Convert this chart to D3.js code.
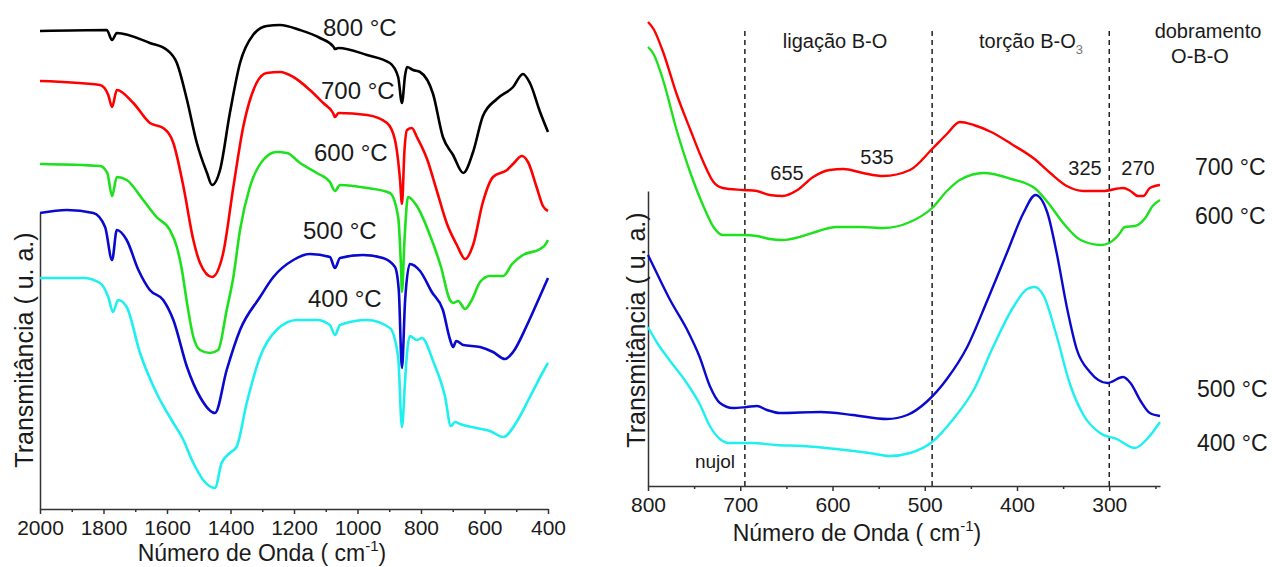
<!DOCTYPE html>
<html>
<head>
<meta charset="utf-8">
<script src="https://cdn.jsdelivr.net/npm/d3@7"></script>
<style>
  body { margin: 0; background: #fff; }
  text { font-family: Arial, "Liberation Sans", sans-serif; fill: #1a1a1a; }
</style>
</head>
<body>
<svg id="chart" width="1272" height="567"></svg>
<script>
// series labels and colours (same order in both panels)
var tempLabels = ["800 °C", "700 °C", "600 °C", "500 °C", "400 °C"];
var colors = ["#000000", "#ff0000", "#1ee11e", "#0a0acf", "#1ef0f0"];

// left panel: wavenumber (cm-1), transmittance (a.u.)
var leftMajor = [2000, 1800, 1600, 1400, 1200, 1000, 800, 600, 400];
var leftMinor = [1900, 1700, 1500, 1300, 1100, 900, 700, 500];

var ir800 = [[2000,95.6],[1790,95.8],[1773,93.8],[1758,95.2],[1654,93.2],[1600,91.8],[1569,89.2],[1537,81.8],[1506,73.2],[1474,67.2],[1458,64.8],[1433,67.8],[1402,79.2],[1370,89.2],[1329,94.8],[1286,96.6],[1244,96.8],[1181,95.8],[1118,94.2],[1075,92.4],[1071,92.0],[1060,92.2],[970,90.8],[898,89.2],[872,86.4],[860,81.2],[850,86.8],[844,88.4],[825,87.8],[803,87.4],[762,83.0],[731,74.4],[699,70.8],[667,67.2],[636,71.4],[605,78.6],[561,82.0],[510,84.4],[479,87.0],[457,85.2],[425,79.4],[400,75.4]];
var ir700 = [[2000,85.6],[1811,84.8],[1785,82.8],[1773,80.4],[1758,83.8],[1706,81.2],[1654,77.2],[1612,76.2],[1580,73.2],[1548,64.4],[1517,53.8],[1496,49.2],[1458,46.4],[1423,51.2],[1391,64.4],[1360,76.4],[1318,85.2],[1286,87.2],[1244,87.4],[1202,86.4],[1150,83.8],[1108,81.2],[1077,79.2],[1071,78.4],[1060,79.2],[970,78.8],[907,77.2],[882,73.8],[866,65.8],[860,61.0],[852,71.8],[844,75.8],[829,76.2],[813,74.4],[781,70.0],[750,63.6],[718,57.0],[687,52.8],[661,50.0],[636,52.8],[605,61.4],[573,66.4],[529,67.8],[510,69.0],[482,70.6],[463,69.4],[435,64.2],[416,60.6],[400,59.6]];
var ir600 = [[2000,69.0],[1811,68.6],[1788,67.2],[1773,62.6],[1758,66.4],[1727,65.8],[1675,61.8],[1633,58.4],[1591,55.8],[1569,52.4],[1553,47.8],[1537,41.2],[1517,34.4],[1496,31.8],[1465,31.2],[1439,31.8],[1412,39.8],[1391,46.4],[1370,55.8],[1339,64.4],[1297,69.8],[1255,71.4],[1222,71.2],[1181,69.2],[1128,67.2],[1087,65.4],[1071,63.6],[1055,64.8],[970,64.2],[898,63.2],[872,58.4],[863,48.4],[860,43.4],[852,53.8],[841,62.4],[813,60.6],[772,54.8],[737,48.4],[709,41.8],[699,41.2],[683,41.6],[661,40.0],[640,41.8],[614,45.4],[583,46.6],[541,46.6],[513,49.0],[479,50.8],[425,52.0],[409,52.8],[400,53.8]];
var ir500 = [[2000,59.2],[1915,59.8],[1832,59.2],[1795,56.4],[1773,49.8],[1758,55.8],[1727,53.8],[1690,47.8],[1654,43.8],[1612,41.8],[1580,37.8],[1537,28.4],[1496,22.4],[1449,19.2],[1412,27.8],[1370,35.8],[1307,42.4],[1265,46.4],[1202,49.8],[1150,51.0],[1087,50.4],[1071,48.2],[1055,50.2],[983,50.8],[920,50.2],[882,48.4],[870,43.8],[860,28.2],[850,41.8],[835,49.0],[803,47.6],[766,43.4],[731,39.8],[709,34.0],[699,32.4],[689,33.6],[667,32.8],[614,32.4],[573,31.4],[536,30.0],[510,31.4],[466,36.8],[425,42.6],[400,46.2]];
var ir400 = [[2000,46.2],[1863,46.2],[1811,45.2],[1785,42.4],[1770,39.4],[1754,41.8],[1727,40.4],[1685,31.2],[1633,23.2],[1580,17.2],[1553,14.4],[1517,9.2],[1486,5.8],[1449,4.2],[1428,9.2],[1402,11.2],[1381,12.4],[1349,21.2],[1307,30.4],[1255,35.8],[1191,37.8],[1128,37.8],[1087,36.8],[1071,34.8],[1055,36.8],[970,37.8],[898,36.2],[872,30.4],[860,16.4],[850,25.8],[844,31.2],[835,34.6],[813,33.8],[797,34.2],[762,29.6],[724,22.4],[706,16.6],[693,17.4],[677,17.0],[625,16.2],[583,15.6],[541,14.4],[499,17.4],[457,22.4],[416,27.4],[400,29.2]];

// right panel: far-IR 800-245 cm-1
var rightMajor = [800, 700, 600, 500, 400, 300];
var rightMinor = [750, 650, 550, 450, 350, 250];
var bandLines = [695, 492, 300];
var peakLabels = ["655", "535", "325", "270"];

var far700 = [[800,97.4],[794,96.0],[784,91.6],[769,83.0],[754,75.8],[740,69.4],[729,65.4],[719,64.2],[697,63.8],[682,63.6],[668,62.8],[654,62.6],[638,63.8],[621,66.4],[603,67.8],[588,68.0],[567,67.2],[545,66.6],[516,67.8],[492,72.0],[476,75.0],[462,77.4],[447,76.8],[428,75.4],[406,73.0],[381,70.0],[364,67.2],[346,64.6],[328,63.6],[307,63.6],[285,64.2],[277,63.6],[269,62.6],[263,62.6],[256,64.2],[245,64.8]];
var far600 = [[800,92.4],[794,91.0],[784,86.0],[769,75.8],[754,67.2],[740,60.6],[729,56.4],[719,54.8],[697,54.8],[682,54.6],[668,54.0],[654,53.8],[632,54.6],[615,55.6],[596,56.4],[570,56.4],[545,56.2],[516,57.4],[492,60.2],[476,63.6],[462,65.8],[436,67.2],[406,66.0],[381,64.2],[367,61.4],[349,57.0],[331,53.8],[309,52.8],[300,53.2],[290,54.8],[283,56.4],[272,56.6],[261,58.2],[253,60.6],[245,61.8]];
var far500 = [[800,50.8],[790,47.0],[776,41.8],[758,36.0],[744,30.4],[733,24.6],[722,21.2],[708,20.2],[693,20.4],[682,20.6],[671,19.8],[657,19.2],[613,19.4],[578,18.8],[541,18.0],[519,18.8],[497,21.6],[476,26.0],[454,32.4],[432,41.8],[411,51.2],[393,59.2],[380,62.8],[367,59.2],[357,51.2],[346,40.4],[335,31.8],[321,27.4],[302,25.2],[285,26.4],[277,25.2],[266,21.6],[256,19.2],[245,18.6]];
var far400 = [[800,36.4],[790,33.2],[776,29.6],[758,25.2],[744,21.0],[733,16.6],[722,14.0],[712,13.2],[687,13.2],[661,12.8],[632,12.6],[596,12.0],[560,11.2],[538,10.6],[516,11.2],[492,13.4],[469,18.0],[447,23.8],[426,32.4],[404,40.4],[389,44.0],[381,44.4],[371,42.6],[357,34.6],[343,25.2],[328,18.8],[310,15.2],[292,14.0],[272,12.2],[259,14.0],[245,17.4]];

var leftSeries = [ir800, ir700, ir600, ir500, ir400];
var rightSeries = [far700, far600, far500, far400];
var rightColors = colors.slice(1);
var rightTemps = tempLabels.slice(1);

var leftAxisTop = 59.2, rightAxisTop = 63.6, dashTop = 95.6;

var svg = d3.select("#chart");

var xL = d3.scaleLinear().domain([2000, 400]).range([40, 548]);
var yL = d3.scaleLinear().domain([0, 100]).range([509, 9]);
var xR = d3.scaleLinear().domain([800, 245]).range([648, 1160]);
var yR = d3.scaleLinear().domain([4.6, 100]).range([486, 9]);

function drawPanel(x, y, series, cols, major, minor, axisTop, width) {
  var g = svg.append("g");
  var base = y.domain()[0];

  // bottom axis, labelled majors + unlabelled minors
  var ax = g.append("g")
    .attr("transform", "translate(0," + y(base) + ")")
    .call(d3.axisBottom(x).tickValues(major).tickSize(5).tickSizeOuter(0).tickPadding(6).tickFormat(d3.format("d")));
  ax.selectAll("text").style("font-size", "21px").attr("fill", "#1a1a1a");
  var axm = g.append("g")
    .attr("transform", "translate(0," + y(base) + ")")
    .call(d3.axisBottom(x).tickValues(minor).tickSize(3).tickFormat(""));
  axm.select(".domain").remove();

  // short left axis line
  var yAxisScale = y.copy().domain([base, axisTop]).range([y(base), y(axisTop)]);
  g.append("g")
    .attr("transform", "translate(" + x.range()[0] + ",0)")
    .call(d3.axisLeft(yAxisScale).tickValues([]).tickSizeOuter(0));

  g.selectAll(".domain, .tick line").attr("stroke", "#333").attr("stroke-width", 1.5);

  var line = d3.line()
    .x(function (d) { return x(d[0]); })
    .y(function (d) { return y(d[1]); })
    .curve(d3.curveMonotoneX);

  g.selectAll("path.spec")
    .data(series)
    .enter()
    .append("path")
    .attr("class", "spec")
    .attr("d", line)
    .attr("fill", "none")
    .attr("stroke", function (d, i) { return cols[i]; })
    .attr("stroke-width", width)
    .attr("stroke-linejoin", "round");
  return g;
}

// dashed band separators go under the curves
bandLines.forEach(function (v) {
  svg.append("line")
    .attr("x1", xR(v)).attr("x2", xR(v))
    .attr("y1", yR(4.6)).attr("y2", yR(dashTop))
    .attr("stroke", "#222").attr("stroke-width", 1.5)
    .attr("stroke-dasharray", "5,4");
});

drawPanel(xL, yL, leftSeries, colors, leftMajor, leftMinor, leftAxisTop, 2.6);
drawPanel(xR, yR, rightSeries, rightColors, rightMajor, rightMinor, rightAxisTop, 2.4);

// axis titles
function xTitle(cx, by) {
  var t = svg.append("text").attr("x", cx).attr("y", by)
    .attr("text-anchor", "middle").style("font-size", "23px");
  t.append("tspan").text("Número de Onda ( cm");
  t.append("tspan").attr("dy", -10).style("font-size", "15px").text("-1");
  t.append("tspan").attr("dy", 10).text(")");
}
xTitle(262, 561);
xTitle(857, 541);

function yTitle(bx, cy) {
  svg.append("text")
    .attr("transform", "translate(" + bx + "," + cy + ") rotate(-90)")
    .attr("text-anchor", "middle")
    .style("font-size", "25px")
    .text("Transmitância ( u. a.)");
}
yTitle(33, 350);
yTitle(645, 330);

// temperature labels, left panel
var leftLabelPos = [[323, 36], [321, 99], [314, 161], [303, 239], [308, 307]];
tempLabels.forEach(function (t, i) {
  svg.append("text").attr("x", leftLabelPos[i][0]).attr("y", leftLabelPos[i][1])
    .style("font-size", "24px").text(t);
});

// temperature labels, right panel
var rightLabelPos = [[1195, 175], [1195, 224], [1197, 397], [1197, 451]];
rightTemps.forEach(function (t, i) {
  svg.append("text").attr("x", rightLabelPos[i][0]).attr("y", rightLabelPos[i][1])
    .style("font-size", "23px").text(t);
});

// peak positions
var peakPos = [[787, 180], [877, 164], [1085, 175], [1138, 175]];
peakLabels.forEach(function (t, i) {
  svg.append("text").attr("x", peakPos[i][0]).attr("y", peakPos[i][1])
    .attr("text-anchor", "middle").style("font-size", "20px").text(t);
});

// band names
svg.append("text").attr("x", 835).attr("y", 48).attr("text-anchor", "middle")
  .style("font-size", "20px").text("ligação B-O");
var tor = svg.append("text").attr("x", 1031).attr("y", 48).attr("text-anchor", "middle")
  .style("font-size", "20px");
tor.append("tspan").text("torção B-O");
tor.append("tspan").attr("dy", 6).style("font-size", "13px").attr("fill", "#777").text("3");
svg.append("text").attr("x", 1208).attr("y", 38).attr("text-anchor", "middle")
  .style("font-size", "20px").text("dobramento");
svg.append("text").attr("x", 1200).attr("y", 63).attr("text-anchor", "middle")
  .style("font-size", "20px").text("O-B-O");
svg.append("text").attr("x", 715).attr("y", 468).attr("text-anchor", "middle")
  .style("font-size", "19px").text("nujol");
</script>
</body>
</html>
